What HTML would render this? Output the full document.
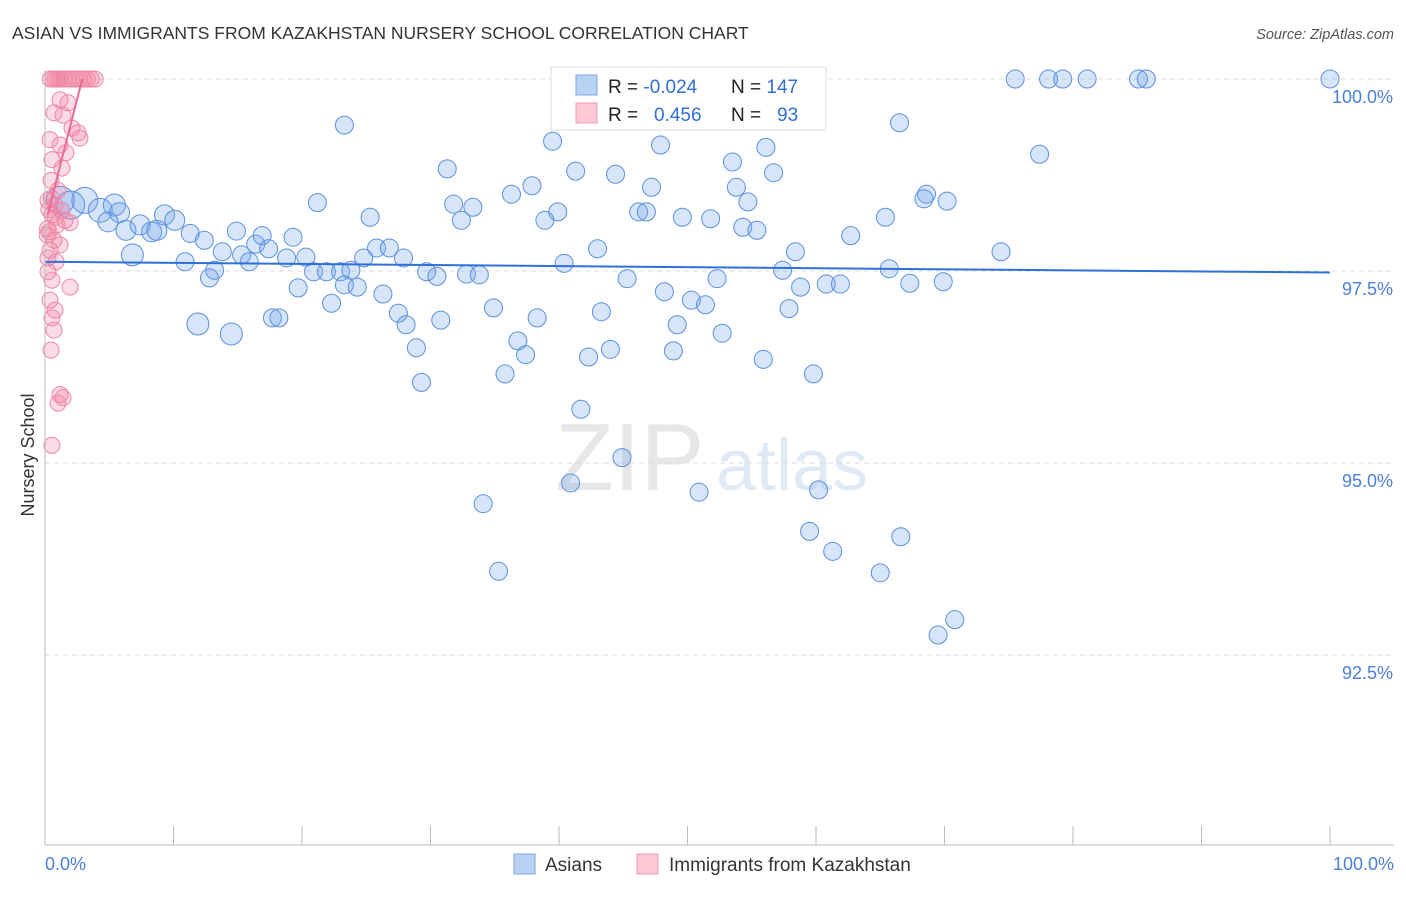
<!DOCTYPE html>
<html><head><meta charset="utf-8"><style>
body{margin:0;background:#fff;font-family:"Liberation Sans",sans-serif;}
svg text{font-family:"Liberation Sans",sans-serif;}
</style></head><body>
<svg id="c" width="1406" height="892" xmlns="http://www.w3.org/2000/svg">
<text x="12" y="39" font-size="17.5" fill="#333">ASIAN VS IMMIGRANTS FROM KAZAKHSTAN NURSERY SCHOOL CORRELATION CHART</text>
<text x="1394" y="39" font-size="14.5" fill="#555" text-anchor="end" font-style="italic">Source: ZipAtlas.com</text>
<g opacity="0.35">
<text x="555" y="490" font-size="96" fill="#bbb" font-family="Liberation Serif,serif">ZIP</text>
<text x="716" y="490" font-size="72" fill="#a9c4ea">atlas</text>
</g>
<text transform="translate(34,455) rotate(-90)" font-size="18" fill="#333" text-anchor="middle">Nursery School</text>
<g id="grid"></g><g id="marks"></g><g id="axes"></g>
<g>
<rect x="551" y="67" width="275" height="63" fill="#fff" stroke="#ddd"/>
<rect x="576" y="75" width="21" height="20" fill="#b9d1f3" stroke="#7aa6e6"/>
<rect x="576" y="103" width="21" height="20" fill="#fcc8d6" stroke="#f19ab4"/>
<text x="608" y="93" font-size="19" fill="#222">R = <tspan fill="#2f6fd8">-0.024</tspan><tspan x="731">N = </tspan><tspan fill="#2f6fd8">147</tspan></text>
<text x="608" y="121" font-size="19" fill="#222">R = <tspan x="654" fill="#2f6fd8">0.456</tspan><tspan x="731">N = </tspan><tspan x="777" fill="#2f6fd8">93</tspan></text>
</g>
<g>
<rect x="514" y="854" width="21" height="20" fill="#b9d1f3" stroke="#7aa6e6"/>
<text x="545" y="871" font-size="19" fill="#333">Asians</text>
<rect x="637" y="854" width="21" height="20" fill="#fcc8d6" stroke="#f19ab4"/>
<text x="669" y="871" font-size="19" fill="#333">Immigrants from Kazakhstan</text>
</g>
</svg>
<script>
const yTicks=[100,97.5,95,92.5];
const yTickLabels=["100.0%","97.5%","95.0%","92.5%"];
const xTickVals=[0,10,20,30,40,50,60,70,80,90,100];
const asianX=[75.5,78.1,79.2,81.1,85.1,85.7,100,23.3,66.5,39.5,47.9,56.1,77.4,53.5,31.3,41.3,44.4,56.7,37.9,47.2,53.8,36.3,68.6,68.4,70.2,21.2,31.8,33.3,54.7,39.9,46.2,46.8,49.6,51.8,38.9,32.4,25.3,65.4,54.3,55.4,62.7,1.2,2.0,3.1,4.3,5.4,5.8,4.9,6.3,7.4,8.3,8.7,9.3,10.1,11.3,12.4,6.8,10.9,13.8,14.9,15.3,15.9,16.4,16.9,17.4,19.3,18.8,20.3,13.2,12.8,19.7,20.9,21.9,23.0,23.8,23.3,24.3,25.8,26.8,27.9,24.8,22.3,26.3,29.7,30.5,32.8,33.8,40.4,43.0,45.3,48.2,50.3,51.4,52.3,57.4,58.4,58.8,60.8,61.9,65.7,67.3,69.9,74.4,11.9,14.5,17.7,18.2,27.5,28.1,30.8,34.9,38.3,43.3,49.2,52.7,57.9,28.9,36.8,37.4,42.3,44.0,48.9,55.9,35.8,29.3,59.8,41.7,44.9,40.9,34.1,50.9,60.2,59.5,66.6,61.3,35.3,65.0,69.5,70.8,45.8];
const asianY=[100,100,100,100,100,100,100,99.40,99.43,99.19,99.14,99.11,99.02,98.92,98.83,98.80,98.76,98.78,98.61,98.59,98.59,98.50,98.50,98.44,98.41,98.39,98.37,98.33,98.40,98.27,98.27,98.27,98.20,98.18,98.16,98.16,98.20,98.20,98.07,98.03,97.96,98.42,98.36,98.42,98.29,98.36,98.26,98.14,98.03,98.10,98.01,98.03,98.23,98.16,97.99,97.90,97.71,97.62,97.75,98.02,97.71,97.62,97.85,97.96,97.79,97.94,97.67,97.68,97.51,97.41,97.28,97.49,97.49,97.49,97.51,97.32,97.29,97.80,97.80,97.67,97.67,97.08,97.20,97.49,97.43,97.46,97.45,97.60,97.79,97.40,97.23,97.12,97.06,97.40,97.51,97.75,97.29,97.33,97.33,97.53,97.34,97.36,97.75,96.81,96.68,96.89,96.89,96.95,96.80,96.86,97.02,96.89,96.97,96.80,96.69,97.01,96.50,96.59,96.41,96.38,96.48,96.46,96.35,96.16,96.05,96.16,95.70,95.07,94.74,94.47,94.62,94.65,94.11,94.04,93.85,93.59,93.57,92.76,92.96,99.50];
const asianSize=[9,9,9,9,9,9,9,9,9,9,9,9,9,9,9,9,9,9,9,9,9,9,9,9,9,9,9,9,9,9,9,9,9,9,9,9,9,9,9,9,9,14,14,13,12,11,10,10,10,10,10,10,10,10,9,9,11,9,9,9,9,9,9,9,9,9,9,9,9,9,9,9,9,9,9,9,9,9,9,9,9,9,9,9,9,9,9,9,9,9,9,9,9,9,9,9,9,9,9,9,9,9,9,11,11,9,9,9,9,9,9,9,9,9,9,9,9,9,9,9,9,9,9,9,9,9,9,9,9,9,9,9,9,9,9,9,9,9,9,9,9];
const kazX=[0.4,0.6,0.8,1.0,1.2,1.5,1.8,2.1,2.4,2.7,3.0,3.3,3.6,3.9,1.17,1.79,0.70,1.40,2.10,2.57,0.39,1.17,1.63,0.54,1.32,2.72,0.47,1.01,0.23,0.78,1.32,0.54,1.56,0.93,1.95,0.31,0.70,1.17,0.39,0.86,0.23,0.54,0.39,0.78,0.54,0.70,0.47,1.95,1.17,1.40,1.01,0.54,0.16,0.23,0.3,0.5,0.8,0.2];
const kazY=[100,100,100,100,100,100,100,100,100,100,100,100,100,100,99.73,99.69,99.56,99.53,99.36,99.30,99.21,99.14,99.04,98.95,98.84,99.23,98.68,98.55,98.42,98.36,98.29,98.23,98.16,98.10,98.13,98.01,97.90,97.84,97.77,97.62,97.49,97.38,97.12,96.99,96.89,96.73,96.47,97.29,95.89,95.85,95.78,95.23,97.97,97.67,98.30,98.45,98.20,98.05];
const asianTrendX=[0,100], asianTrendY=[97.62,97.48];
const kazTrendX=[0.2,2.9], kazTrendY=[98.23,100];
const sx=v=>45+v*12.85, sy=v=>79+(100-v)*76.8;
const NS="http://www.w3.org/2000/svg";
function mk(t,a,p){const e=document.createElementNS(NS,t);for(const k in a)e.setAttribute(k,a[k]);p.appendChild(e);return e;}
const grid=document.getElementById('grid'),marks=document.getElementById('marks'),axes=document.getElementById('axes');
yTicks.forEach((v,i)=>{
 const l=mk('line',{x1:45,x2:1394,y1:sy(v),y2:sy(v),stroke:'#ddd','stroke-dasharray':'5,4'},grid);
 
 
 const t=mk('text',{x:1393,y:sy(v)+24,'font-size':18,fill:'#4a7fd6','text-anchor':'end'},axes);
 t.textContent=yTickLabels[i];
 
 
});
const ax=mk('line',{x1:45,x2:1394,y1:845,y2:845,stroke:'#bbb'},axes);


const ay=mk('line',{x1:45,x2:45,y1:70,y2:845,stroke:'#bbb'},axes);


xTickVals.forEach(v=>{const t=mk('line',{x1:sx(v),x2:sx(v),y1:826,y2:845,stroke:'#bbb'},axes);
 
 });
const x0=mk('text',{x:45,y:870,'font-size':18,fill:'#4a7fd6'},axes);x0.textContent='0.0%';


const x1=mk('text',{x:1394,y:870,'font-size':18,fill:'#4a7fd6','text-anchor':'end'},axes);x1.textContent='100.0%';


asianX.forEach((x,i)=>{const c=mk('circle',{cx:sx(x),cy:sy(asianY[i]),r:asianSize[i],fill:'rgba(110,160,232,0.28)',stroke:'#5b90e0','stroke-width':1},marks);
 
 });
kazX.forEach((x,i)=>{const c=mk('circle',{cx:sx(x),cy:sy(kazY[i]),r:8,fill:'rgba(242,130,162,0.28)',stroke:'#ee88a8','stroke-width':1},marks);
 
 });
const t1=mk('line',{x1:sx(asianTrendX[0]),y1:sy(asianTrendY[0]),x2:sx(asianTrendX[1]),y2:sy(asianTrendY[1]),stroke:'#2f6fd8','stroke-width':2},marks);


const t2=mk('line',{x1:sx(kazTrendX[0]),y1:sy(kazTrendY[0]),x2:sx(kazTrendX[1]),y2:sy(kazTrendY[1]),stroke:'#ec6a92','stroke-width':2},marks);


</script>
</body></html>
